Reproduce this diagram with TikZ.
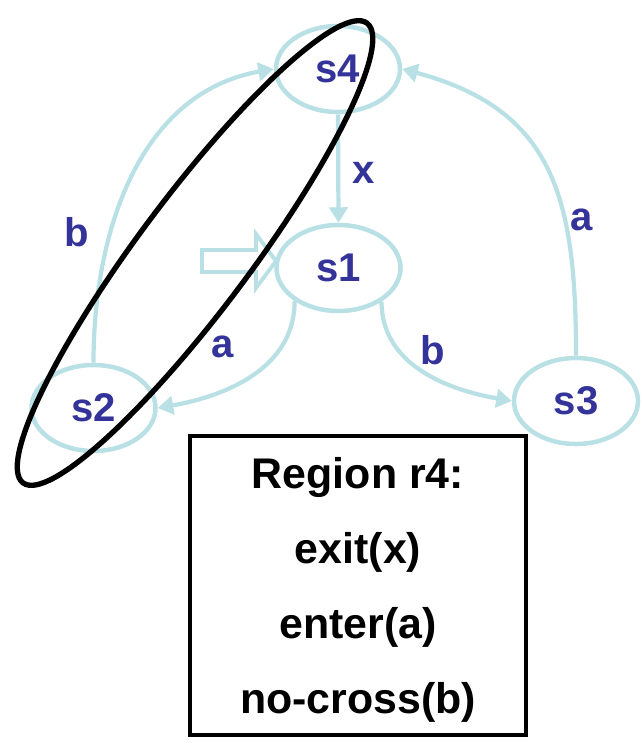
\documentclass[tikz,border=0pt]{standalone}
\usepackage{fontspec}
\setmainfont{Liberation Sans}
\usepackage{tikz}
\usetikzlibrary{positioning, arrows.meta, shapes.geometric}

\definecolor{edgecyan}{RGB}{185,224,228}
\definecolor{stateblue}{RGB}{51,51,153}

\begin{document}
\begin{tikzpicture}[x=0.025cm, y=-0.025cm,
  state/.style={ellipse, draw=edgecyan, line width=3.2pt, minimum width=3.1cm,
    minimum height=2.15cm, inner sep=0pt, text=stateblue,
    font=\fontsize{28.5}{34}\selectfont\bfseries},
  trans/.style={draw=edgecyan, line width=3pt, -{Triangle[length=11pt, width=13pt]}},
  lbl/.style={text=stateblue, font=\fontsize{28.5}{34}\selectfont\bfseries},
  boxtext/.style={anchor=base, font=\fontsize{30.5}{36}\selectfont\bfseries}]

\useasboundingbox (0,0) rectangle (640,743);

% Состояния
\node[state] (s4) at (338,69) {s4};
\node[state] (s1) at (338.5,268) {s1};
\node[state] (s2) at (93.5,408) {s2};
\node[state] (s3) at (576,401) {s3};

% Переходы
\draw[trans] (s4.south) -- (s1.north);
\draw[trans] (s1.217) to[out=-90, in=10] (s2.east);
\draw[trans] (s1.322) to[out=-90, in=170] (s3.west);
\draw[trans] (s2.north) to[out=90, in=190] (s4.west);
\draw[trans] (s3.north) to[out=90, in=-15, looseness=1.2] (s4.east);

% Метки переходов
\node[lbl] (lx) at (364,173) {x};
\node[lbl] (la1) at (223,347) {a};
\node[lbl] (lb1) at (433,350) {b};
\node[lbl] (lb2) at (77,232) {b};
\node[lbl] (la2) at (582,220) {a};

% Начальное состояние
\draw[edgecyan, line width=2.7pt, line join=miter]
  (202,250) -- (256,250) -- (256,234) -- (276,261) -- (256,288) -- (256,272) -- (202,272) -- cycle;

% Область r4
\draw[line width=3.8pt, rotate around={53.2:(195,253)}] (195,253) ellipse [x radius=7.175cm, y radius=1.4cm];

% Описание области
\node[draw, line width=3pt, minimum width=8.4cm, minimum height=7.475cm] (regionbox) at (358,585.5) {};
\foreach \txt/\yy/\nm in {Region r4:/488/rline1, exit(x)/563/rline2, enter(a)/638/rline3, no-cross(b)/713/rline4}
  \node[boxtext] (\nm) at (358,\yy) {\txt};

\end{tikzpicture}
\end{document}
